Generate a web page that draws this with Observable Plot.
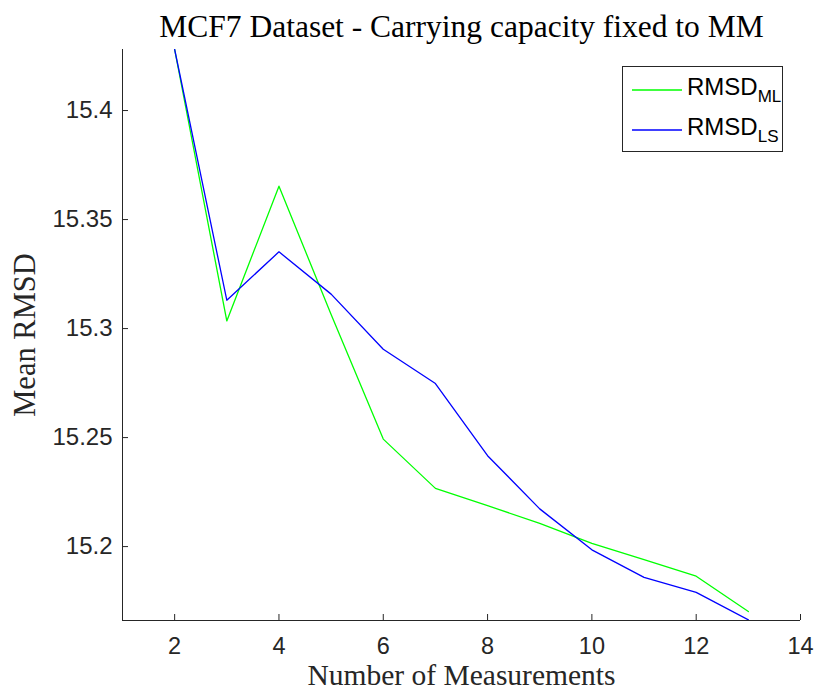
<!DOCTYPE html>
<html>
<head>
<meta charset="utf-8">
<script src="https://cdn.jsdelivr.net/npm/d3@7"></script>
<script src="https://cdn.jsdelivr.net/npm/@observablehq/plot@0.6"></script>
<style>
  body { margin: 0; background: #fff; }
  #wrap { position: relative; width: 817px; height: 689px; }
  #legend { position: absolute; left: 622px; top: 66px; width: 161px; height: 86px;
    border: 1px solid #262626; background: #fff; box-sizing: border-box;
    font-family: "Liberation Sans", Arial, sans-serif; font-size: 24px; color: #000; }
  .row { position: absolute; left: 0; height: 30px; display: flex; align-items: center; }
  .row svg { margin-left: 9px; margin-right: 5px; }
  .row sub { font-size: 17px; vertical-align: -7px; }
</style>
</head>
<body>
<div id="wrap"></div>
<script>
const measurements = [2, 3, 4, 5, 6, 7, 8, 9, 10, 11, 12, 13];
const rmsdML = [15.428, 15.3035, 15.3653, 15.3065, 15.2493, 15.2267, 15.2188, 15.2106, 15.2015, 15.194, 15.1864, 15.1702];
const rmsdLS = [15.428, 15.313, 15.3352, 15.3158, 15.2905, 15.2748, 15.2417, 15.2173, 15.1985, 15.1859, 15.179, 15.1664];
const xTicks = [2, 4, 6, 8, 10, 12, 14];
const yTicks = [15.2, 15.25, 15.3, 15.35, 15.4];
const xDomain = [1, 14];
const yDomain = [15.1661, 15.428];
const seriesNames = ["ML", "LS"];
const seriesColors = ["#00ff00", "#0000ff"];

const data = [];
measurements.forEach((m, i) => {
  data.push({x: m, y: rmsdML[i], s: "ML"});
  data.push({x: m, y: rmsdLS[i], s: "LS"});
});

const axisColor = "#262626";
const serif = "'Liberation Serif', 'DejaVu Serif', serif";

const chart = Plot.plot({
  width: 817,
  height: 689,
  marginLeft: 122,
  marginRight: 17,
  marginTop: 49,
  marginBottom: 69,
  style: {background: "#fff", fontFamily: "'Liberation Sans', Arial, sans-serif"},
  x: {domain: xDomain},
  y: {domain: yDomain},
  color: {domain: seriesNames, range: seriesColors},
  marks: [
    Plot.lineY(data, {x: "x", y: "y", stroke: "s", strokeWidth: 1.3, clip: true}),
    Plot.ruleX([xDomain[0]], {stroke: axisColor, strokeWidth: 1}),
    Plot.ruleY([yDomain[0]], {stroke: axisColor, strokeWidth: 1}),
    Plot.axisX(xTicks, {anchor: "bottom", tickSize: -6, tickPadding: 23, label: null, fontSize: 23.5, color: axisColor, stroke: axisColor}),
    Plot.axisY(yTicks, {anchor: "left", tickSize: -6, tickPadding: 16, label: null, fontSize: 24, color: axisColor, stroke: axisColor,
      tickFormat: d => String(+d.toFixed(2))}),
    Plot.text(["MCF7 Dataset - Carrying capacity fixed to MM"], {frameAnchor: "top", dy: -23, lineAnchor: "middle", textAnchor: "middle", fontSize: 31.5, fontFamily: serif, fill: "#000"}),
    Plot.text(["Number of Measurements"], {frameAnchor: "bottom", dy: 64, lineAnchor: "bottom", textAnchor: "middle", fontSize: 29.5, fontFamily: serif, fill: axisColor}),
    Plot.text(["Mean RMSD"], {frameAnchor: "left", dx: -97, rotate: -90, lineAnchor: "middle", textAnchor: "middle", fontSize: 30.5, fontFamily: serif, fill: axisColor})
  ]
});

const wrap = document.getElementById("wrap");
wrap.appendChild(chart);

const legend = document.createElement("div");
legend.id = "legend";
seriesNames.forEach((name, i) => {
  const row = document.createElement("div");
  row.className = "row";
  row.style.top = (8 + i * 40) + "px";
  row.innerHTML = `<svg width="50" height="4"><line x1="0" y1="2" x2="50" y2="2" stroke="${seriesColors[i]}" stroke-width="1.3"/></svg><span>RMSD<sub>${name}</sub></span>`;
  legend.appendChild(row);
});
wrap.appendChild(legend);
</script>
</body>
</html>
